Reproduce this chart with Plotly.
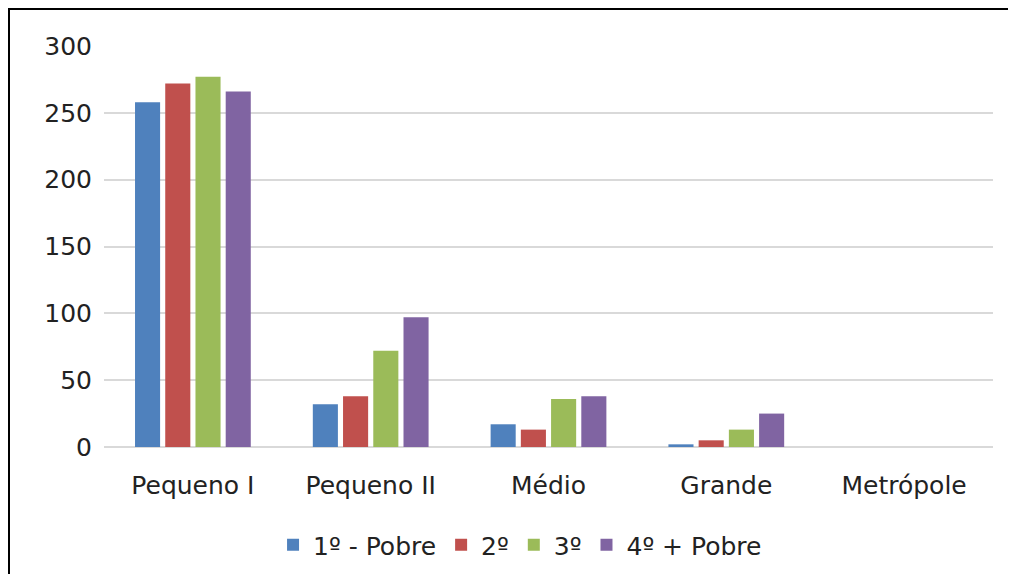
import plotly.graph_objects as go

categories = ["Pequeno I", "Pequeno II", "Médio", "Grande", "Metrópole"]
series_names = ["1º - Pobre", "2º", "3º", "4º + Pobre"]
s1 = [258, 32, 17, 2, 0]
s2 = [272, 38, 13, 5, 0]
s3 = [277, 72, 36, 13, 0]
s4 = [266, 97, 38, 25, 0]
colors = ["#4F81BD", "#C0504D", "#9BBB59", "#8064A2"]
y_ticks = [0, 50, 100, 150, 200, 250, 300]

W, H = 1000, 566
L, R, T, B = 96, 15, 38, 127
pw, ph = W - L - R, H - T - B

fig = go.Figure()
for name, vals, col in zip(series_names, [s1, s2, s3, s4], colors):
    fig.add_trace(go.Bar(x=categories, y=vals, name=name,
                         marker=dict(color=col, line=dict(width=0))))

x_left = -L / pw
x_right = 1 + R / pw
y_top = 1 + (T - 1) / ph
y_bot = -(B + 10) / ph

fig.update_layout(
    width=W, height=H,
    margin=dict(l=L, r=R, t=T, b=B, autoexpand=False),
    paper_bgcolor="white", plot_bgcolor="white",
    barmode="group", bargap=0.32, bargroupgap=0.17,
    font=dict(family="DejaVu Sans", size=25, color="#222222"),
    showlegend=True,
    legend=dict(orientation="h", x=0.468, xanchor="center", y=-98 / ph, yanchor="middle",
                font=dict(size=25), itemwidth=30, traceorder="normal"),
    xaxis=dict(showgrid=False, showline=False, ticks="", tickfont=dict(size=25), ticklabelstandoff=21),
    yaxis=dict(range=[0, 300], tickvals=y_ticks, showgrid=True, gridcolor="#D9D9D9", gridwidth=2,
               zeroline=True, zerolinecolor="#D9D9D9", zerolinewidth=2, ticks="", ticklabelstandoff=11,
               tickfont=dict(size=25)),
    shapes=[
        dict(type="line", xref="paper", yref="paper", x0=x_left, x1=x_right, y0=y_top, y1=y_top,
             line=dict(color="black", width=2)),
        dict(type="line", xref="paper", yref="paper", x0=x_left + 1 / pw, x1=x_left + 1 / pw, y0=y_top, y1=y_bot,
             line=dict(color="black", width=2)),
    ],
)
fig.write_html("out.html")
